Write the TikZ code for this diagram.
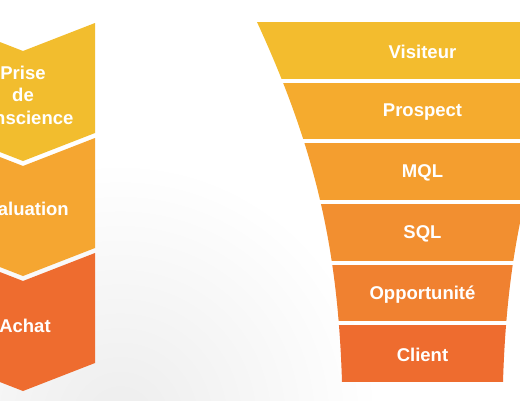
\documentclass[tikz,border=0pt]{standalone}
\usepackage{fontspec}
\setmainfont{Liberation Sans}
\usepackage{tikz}
\usetikzlibrary{calc}
\definecolor{chA}{RGB}{242,189,46}
\definecolor{chB}{RGB}{245,166,49}
\definecolor{chC}{RGB}{238,108,47}
\definecolor{funA}{RGB}{243,188,46}
\definecolor{funB}{RGB}{245,171,46}
\definecolor{funC}{RGB}{244,158,47}
\definecolor{funD}{RGB}{242,143,48}
\definecolor{funE}{RGB}{240,129,48}
\definecolor{funF}{RGB}{238,108,47}
\tikzset{stagelbl/.style={text=white, font=\fontsize{18.5}{22.5}\selectfont\bfseries, align=center, inner sep=0pt}}

\begin{document}
\begin{tikzpicture}[x=1pt, y=-1pt]
\useasboundingbox (0,0) rectangle (520,400);
\clip (0,0) rectangle (520,400);
% ===== background, a faint grey towards the lower left =====
\fill[white] (0,0) rectangle (520,400);
\shade[inner color=black!7, outer color=white] (120,420) circle (260);
% ===== left: buying stages as chevrons (cut at the left border) =====
\foreach \t/\col in {23/chA, 138/chB, 253/chC}
  \fill[\col] (-49,\t) -- (23,\t+28) -- (95,\t) -- (95,\t+110) -- (23,\t+138) -- (-49,\t+110) -- cycle;
\node[stagelbl] (prise) at (23,95) {Prise\\de\\conscience};
\node[stagelbl] (eval) at (22,207) {Évaluation};
\node[stagelbl] (achat) at (25,326) {Achat};
% ===== right: the funnel, one band per step =====
\foreach \col/\txt/\name [count=\k] in {funA/Visiteur/vis, funB/Prospect/pros, funC/MQL/mql, funD/SQL/sql, funE/Opportunité/opp, funF/Client/cli} {
  \pgfmathsetmacro{\top}{22+(\k-1)*60.67}
  \begin{scope}
    \clip (257,22) .. controls (317,152) and (338,252) .. (342,382) -- (503,382) .. controls (507,252) and (528,152) .. (588,22) -- cycle;
    \fill[\col] (250,\top) rectangle (600,\top+56.67);
  \end{scope}
  \node[stagelbl] (\name) at (422.5,\top+29.5) {\txt};
}
\end{tikzpicture}
\end{document}
